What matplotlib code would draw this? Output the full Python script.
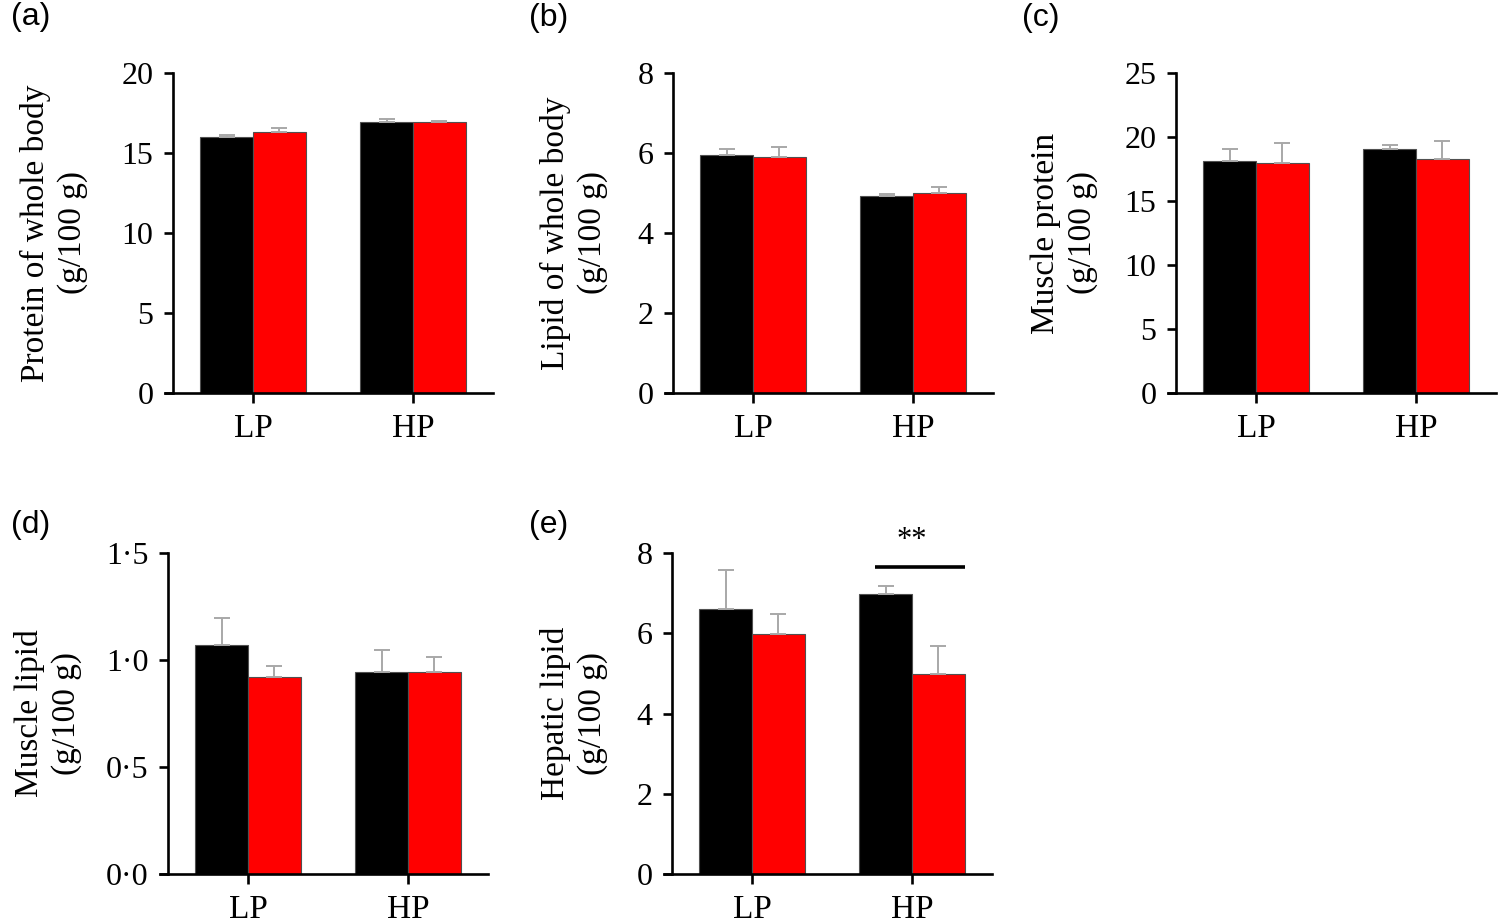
import matplotlib
matplotlib.use("Agg")
import matplotlib.pyplot as plt
import numpy as np

# ---------------- data ----------------
groups = ["LP", "HP"]
panel_letters = ["(a)", "(b)", "(c)", "(d)", "(e)"]
ylabels = ["Protein of whole body\n(g/100 g)",
           "Lipid of whole body\n(g/100 g)",
           "Muscle protein\n(g/100 g)",
           "Muscle lipid\n(g/100 g)",
           "Hepatic lipid\n(g/100 g)"]

a_black = [16.02, 16.94]; a_black_err = [0.10, 0.20]
a_red = [16.29, 16.94];   a_red_err = [0.29, 0.06]
b_black = [5.94, 4.93];   b_black_err = [0.16, 0.05]
b_red = [5.89, 4.99];     b_red_err = [0.27, 0.15]
c_black = [18.15, 19.04]; c_black_err = [0.95, 0.36]
c_red = [17.97, 18.26];   c_red_err = [1.58, 1.40]
d_black = [1.069, 0.942]; d_black_err = [0.127, 0.103]
d_red = [0.922, 0.942];   d_red_err = [0.048, 0.073]
e_black = [6.60, 6.99];   e_black_err = [0.975, 0.18]
e_red = [5.99, 4.99];     e_red_err = [0.50, 0.68]

yticks_a = [0, 5, 10, 15, 20]
yticks_b = [0, 2, 4, 6, 8]
yticks_c = [0, 5, 10, 15, 20, 25]
yticks_d = [0.0, 0.5, 1.0, 1.5]
yticklabels_d = ["0·0", "0·5", "1·0", "1·5"]
yticks_e = [0, 2, 4, 6, 8]

sig_text = "**"
sig_y = 7.66

# ---------------- style ----------------
W, H = 1506, 921
fig = plt.figure(figsize=(W / 100, H / 100), dpi=100)
serif = ["Liberation Serif", "DejaVu Serif"]
sans = ["Liberation Sans", "DejaVu Sans"]

BLACK = "#000000"
RED = "#ff0000"
ERR = "#a8a8a8"
EDGE = "#505050"
bw = 0.33

def px_axes(left, top, width, height):
    return fig.add_axes([left / W, 1 - (top + height) / H, width / W, height / H])

panels = [
    dict(rect=(165, 73, 328, 320), blk=a_black, blke=a_black_err, red=a_red, rede=a_red_err,
         ticks=yticks_a, tl=None, lab=-0.235, letter=(11, 2)),
    dict(rect=(665, 73, 328, 320), blk=b_black, blke=b_black_err, red=b_red, rede=b_red_err,
         ticks=yticks_b, tl=None, lab=-0.174, letter=(529, 3)),
    dict(rect=(1168, 73, 328, 320), blk=c_black, blke=c_black_err, red=c_red, rede=c_red_err,
         ticks=yticks_c, tl=None, lab=-0.213, letter=(1022, 3)),
    dict(rect=(160, 553, 328, 321), blk=d_black, blke=d_black_err, red=d_red, rede=d_red_err,
         ticks=yticks_d, tl=yticklabels_d, lab=-0.238, letter=(11, 510)),
    dict(rect=(664, 553, 328, 321), blk=e_black, blke=e_black_err, red=e_red, rede=e_red_err,
         ticks=yticks_e, tl=None, lab=-0.171, letter=(529, 510)),
]

x = np.arange(len(groups))
for i, p in enumerate(panels):
    ax = px_axes(*p["rect"])
    zeros = np.zeros(len(groups))
    ax.bar(x - bw / 2, p["blk"], bw, color=BLACK, edgecolor=EDGE, linewidth=0.8, zorder=2)
    ax.bar(x + bw / 2, p["red"], bw, color=RED, edgecolor=EDGE, linewidth=0.8, zorder=2)
    ax.errorbar(x - bw / 2, p["blk"], yerr=[zeros, p["blke"]], fmt="none", ecolor=ERR,
                elinewidth=1.4, capsize=6, capthick=1.4, zorder=3)
    ax.errorbar(x + bw / 2, p["red"], yerr=[zeros, p["rede"]], fmt="none", ecolor=ERR,
                elinewidth=1.4, capsize=6, capthick=1.4, zorder=3)

    ax.set_xlim(-0.55, 1.5)
    ax.set_ylim(p["ticks"][0], p["ticks"][-1])
    ax.spines["top"].set_visible(False)
    ax.spines["right"].set_visible(False)
    ax.spines["left"].set_position(("data", -0.5))
    for s in ("left", "bottom"):
        ax.spines[s].set_linewidth(1.9)
        ax.spines[s].set_zorder(4)
    ax.set_yticks(p["ticks"])
    if p["tl"] is not None:
        ax.set_yticklabels(p["tl"])
    ax.set_xticks(x)
    ax.set_xticklabels(groups)
    ax.tick_params(axis="y", direction="out", length=6.5, width=1.9, pad=7.5, labelsize=23)
    ax.tick_params(axis="x", direction="out", length=7, width=1.9, pad=8, labelsize=24)
    for lab in ax.get_yticklabels() + ax.get_xticklabels():
        lab.set_family(serif)
    ax.set_ylabel(ylabels[i], family=serif, fontsize=24, linespacing=1.25)
    ax.yaxis.set_label_coords(p["lab"], 0.5)

    lx, ly = p["letter"]
    fig.text(lx / W, 1 - ly / H, panel_letters[i], family=sans, fontsize=23,
             ha="left", va="top")

    if i == 4:
        ax.plot([1 - 0.23, 1 + bw], [sig_y, sig_y], color="black", lw=2.6,
                solid_capstyle="butt", clip_on=False, zorder=5)
        ax.text(1.0, sig_y + 0.3, sig_text, family=serif, fontsize=22,
                ha="center", va="bottom", clip_on=False)

fig.savefig("out.png", dpi=100)
